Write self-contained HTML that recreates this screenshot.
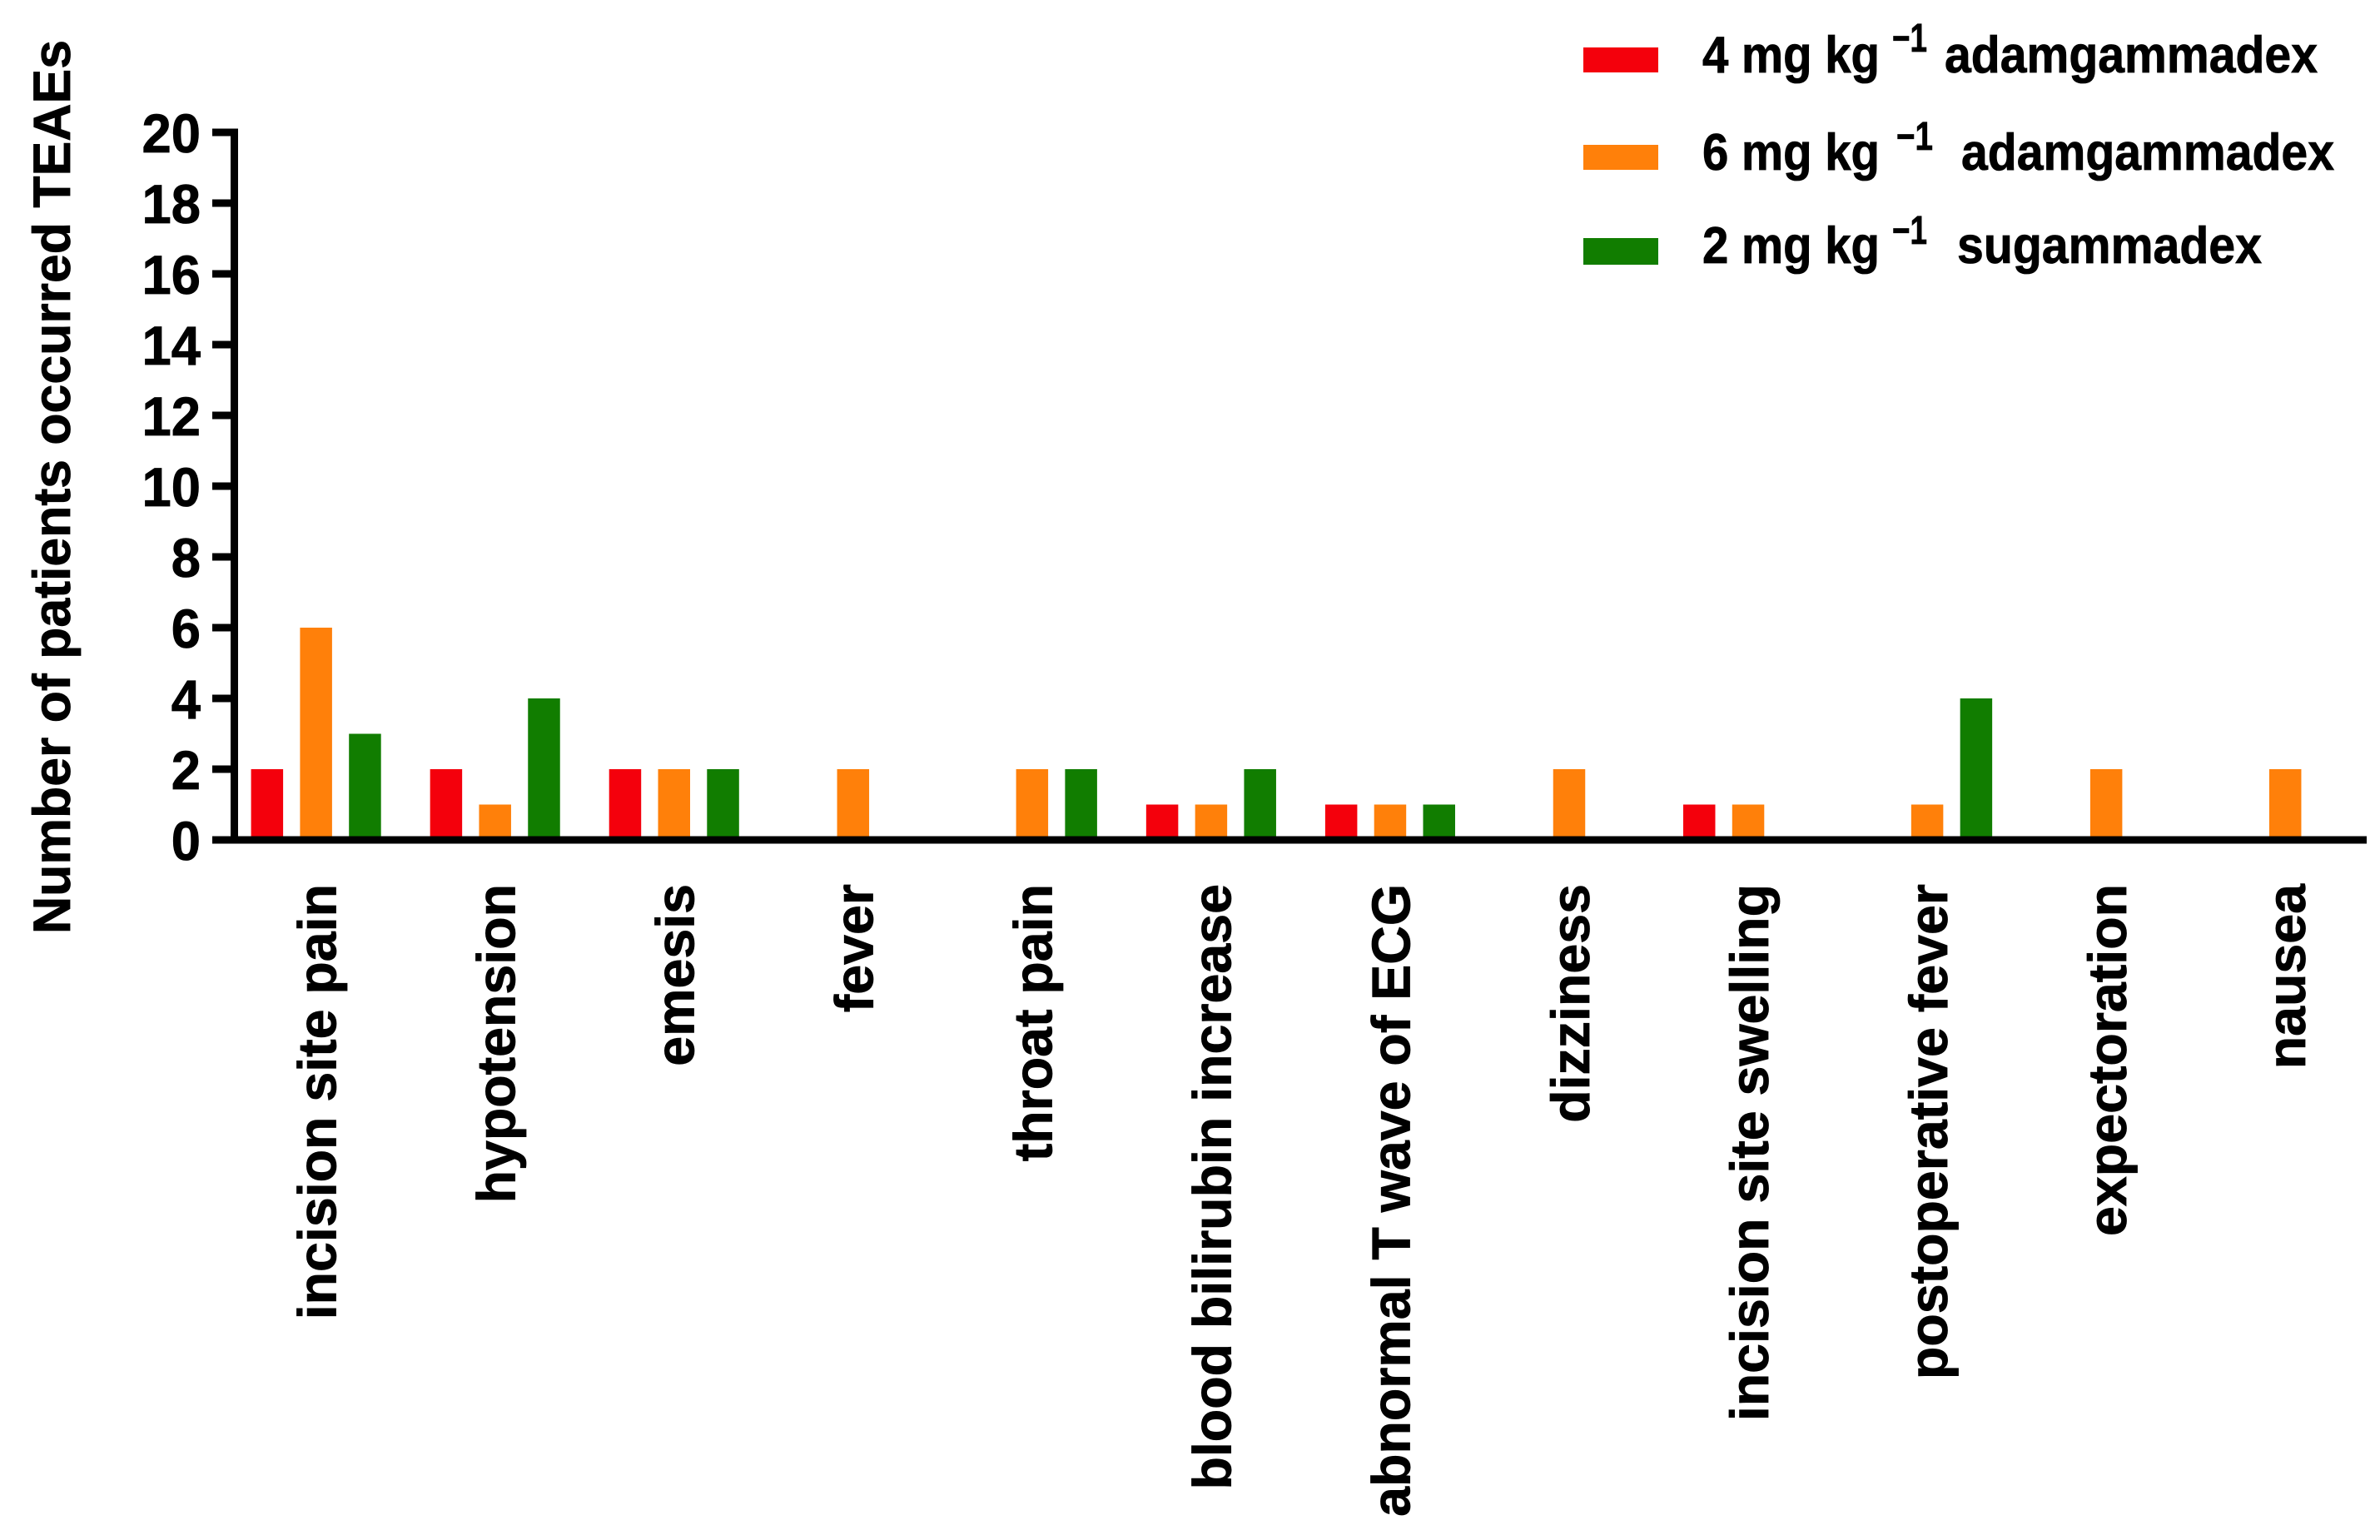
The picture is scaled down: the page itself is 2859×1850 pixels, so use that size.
<!DOCTYPE html>
<html lang="en">
<head>
<meta charset="utf-8">
<title>Number of patients occurred TEAEs</title>
<style>
html,body{margin:0;padding:0;background:#fff;}
svg{display:block;}
text{font-family:"Liberation Sans",Arial,sans-serif;font-weight:bold;fill:#000;stroke:#000;stroke-width:0.8px;}
</style>
</head>
<body>
<svg id="chart" xmlns="http://www.w3.org/2000/svg" width="2859" height="1850" viewBox="0 0 2859 1850">
  <rect x="0" y="0" width="2859" height="1850" fill="#fff"/>
  <g id="bars"></g>
  <g id="axes"></g>
  <g id="y-tick-labels"></g>
  <g id="x-tick-labels"></g>
  <text transform="translate(84,1122) rotate(-90)" font-size="63" textLength="1074" lengthAdjust="spacingAndGlyphs">Number of patients occurred TEAEs</text>

  <g>
    <g>
      <rect x="1902" y="57" width="90" height="30" fill="#f4000c"/>
      <text x="2045" y="87" font-size="62" textLength="213" lengthAdjust="spacingAndGlyphs">4 mg kg</text>
      <text x="2273" y="62" font-size="48" textLength="42" lengthAdjust="spacingAndGlyphs">−1</text>
      <text x="2336" y="87" font-size="62" textLength="448" lengthAdjust="spacingAndGlyphs">adamgammadex</text>
    </g>
    <g>
      <rect x="1902" y="174" width="90" height="30" fill="#ff800a"/>
      <text x="2045" y="204" font-size="62" textLength="213" lengthAdjust="spacingAndGlyphs">6 mg kg</text>
      <text x="2278" y="180" font-size="48" textLength="44" lengthAdjust="spacingAndGlyphs">−1</text>
      <text x="2356" y="204" font-size="62" textLength="448" lengthAdjust="spacingAndGlyphs">adamgammadex</text>
    </g>
    <g>
      <rect x="1902" y="286" width="90" height="32" fill="#117d00"/>
      <text x="2045" y="316" font-size="62" textLength="213" lengthAdjust="spacingAndGlyphs">2 mg kg</text>
      <text x="2273" y="293" font-size="48" textLength="42" lengthAdjust="spacingAndGlyphs">−1</text>
      <text x="2351" y="316" font-size="62" textLength="366" lengthAdjust="spacingAndGlyphs">sugammadex</text>
    </g>
  </g>
</svg>
<script>
const categories = ["incision site pain","hypotension","emesis","fever","throat pain","blood bilirubin increase","abnormal T wave of ECG","dizziness","incision site swelling","postoperative fever","expectoration","nausea"];
const adamgammadex4 = [2,2,2,0,0,1,1,0,1,0,0,0];
const adamgammadex6 = [6,1,2,2,2,1,1,2,1,1,2,2];
const sugammadex2 = [3,4,2,0,2,2,1,0,0,4,0,0];
const yTicks = [0,2,4,6,8,10,12,14,16,18,20];

const NS = "http://www.w3.org/2000/svg";
const seriesList = [
  {key:"4mg-adamgammadex", values:adamgammadex4, color:"#f4000c"},
  {key:"6mg-adamgammadex", values:adamgammadex6, color:"#ff800a"},
  {key:"2mg-sugammadex", values:sugammadex2, color:"#117d00"}
];

function yScale(v){ return 1009 - v * 42.5; }
function xBar(groupIndex, seriesIndex){ return 301.6 + groupIndex * 215.05 + seriesIndex * 58.8; }
function xGroupCenter(groupIndex){ return xBar(groupIndex, 1) + 19; }

function make(tag, attrs, parent){
  const el = document.createElementNS(NS, tag);
  for (const k in attrs) el.setAttribute(k, attrs[k]);
  parent.appendChild(el);
  return el;
}

const barsG = document.getElementById("bars");
seriesList.forEach(function(s, si){
  s.values.forEach(function(v, gi){
    const top = yScale(v);
    const bar = make("rect", {x:xBar(gi, si), y:top, width:38.5, height:yScale(0) - top, fill:s.color}, barsG);
    
    
  });
});

const axesG = document.getElementById("axes");
const yAxisLine = make("rect", {x:277, y:yScale(20) - 4.5, width:9, height:yScale(0) - yScale(20) + 9, fill:"#000"}, axesG);


const xAxisLine = make("rect", {x:255, y:yScale(0) - 4.5, width:2588, height:9, fill:"#000"}, axesG);



const yLabelsG = document.getElementById("y-tick-labels");
yTicks.forEach(function(t){
  const tick = make("rect", {x:255, y:yScale(t) - 4.5, width:24, height:9, fill:"#000"}, axesG);
  
  
  const label = make("text", {transform:"translate(241," + (yScale(t) + 24) + ") scale(0.96,1)", "text-anchor":"end", "font-size":"66"}, yLabelsG);
  label.textContent = String(t);
  
  
});

const xLabelsG = document.getElementById("x-tick-labels");
categories.forEach(function(c, gi){
  const label = make("text", {transform:"translate(" + (xGroupCenter(gi) + 24) + ",1062) rotate(-90)", "text-anchor":"end", "font-size":"64.5"}, xLabelsG);
  label.textContent = c;
  
  
});
</script>
</body>
</html>
